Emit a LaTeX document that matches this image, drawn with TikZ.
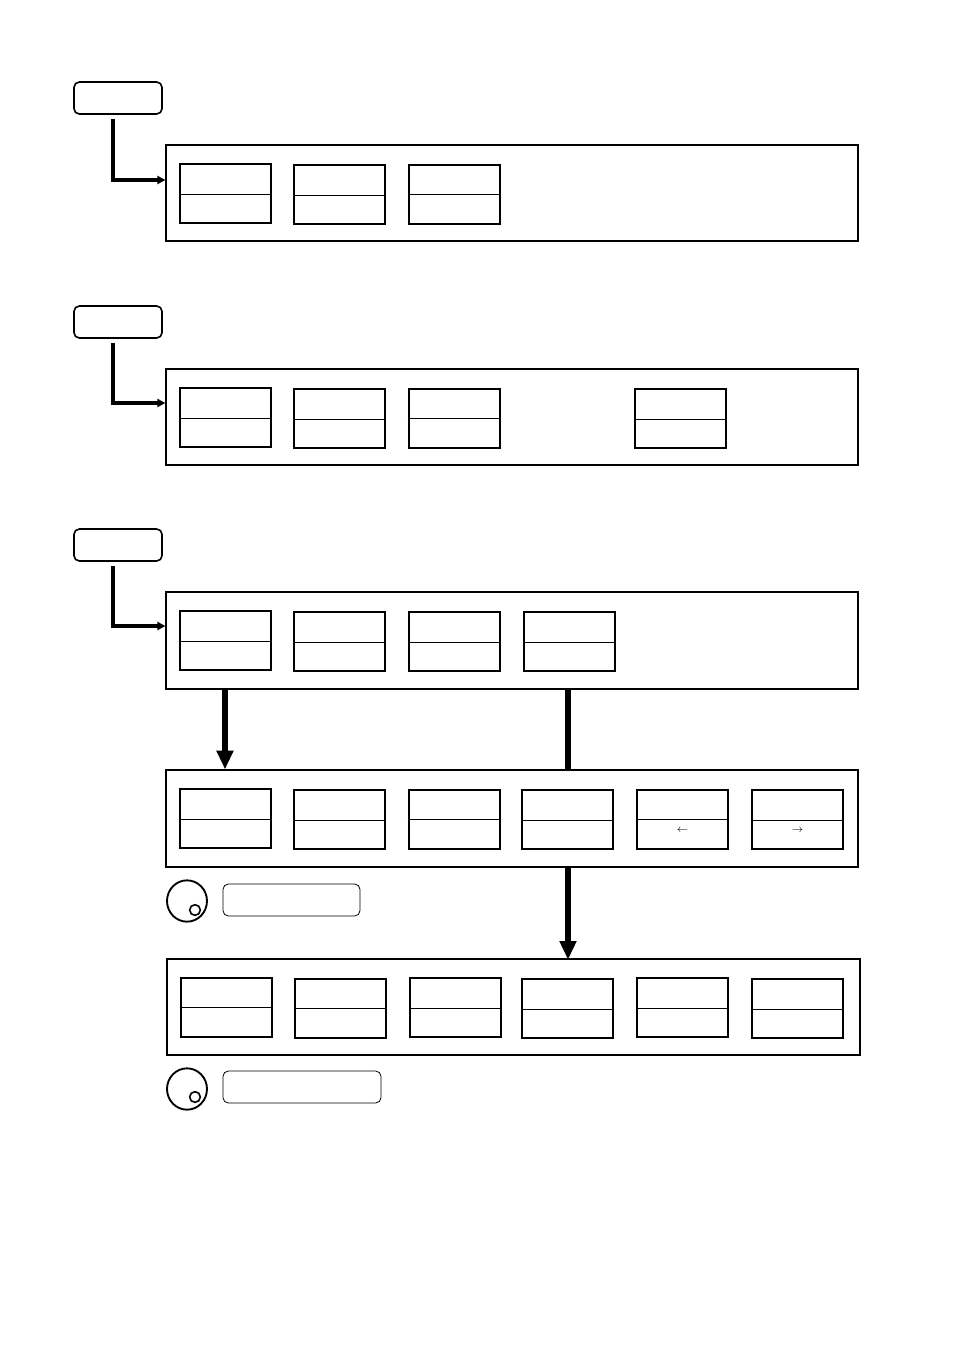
\documentclass[tikz,border=0pt]{standalone}
\usetikzlibrary{arrows.meta,shapes.geometric}
\begin{document}
\begin{tikzpicture}[x=0.75pt,y=-0.75pt,
  sbox/.style={draw,line width=0.9pt,minimum width=68.25pt,minimum height=44.25pt,inner sep=0pt},
  tbox/.style={sbox,line width=1.9pt},
  panel/.style={draw,line width=0.9pt},
  hdr/.style={draw,rounded corners=4pt,line width=1.2pt,inner sep=0pt},
  lbl/.style={draw,rounded corners=4pt,line width=0.6pt,inner sep=0pt},
  elbow/.style={line width=3pt,-{Triangle[width=6pt,length=6pt]}},
  bigarrow/.style={line width=4pt,-{Triangle[width=12pt,length=14pt]}},
  bigline/.style={line width=4pt}]
\useasboundingbox (0,0) rectangle (954,1350);
\fill[white] (0,0) rectangle (954,1350);
\newcommand{\smbox}[4]{\node[#1] (#2) at (#3+45.5,#4+29.5) {};
  \draw[line width=0.7pt] ([yshift=-23.25pt]#2.north west) -- ([yshift=-23.25pt]#2.north east);}
% headers
\node[hdr,minimum width=66pt,minimum height=24pt] (h1) at (118,98) {};
\node[hdr,minimum width=66pt,minimum height=24pt] (h2) at (118,322) {};
\node[hdr,minimum width=66pt,minimum height=24pt] (h3) at (118,545) {};
% panels
\node[panel,minimum width=519pt,minimum height=72pt,inner sep=0pt] (p1) at (512,193) {};
\node[panel,minimum width=519pt,minimum height=72pt,inner sep=0pt] (p2) at (512,417) {};
\node[panel,minimum width=519pt,minimum height=72.75pt,inner sep=0pt] (p3) at (512,640.5) {};
\node[panel,minimum width=519pt,minimum height=72.75pt,inner sep=0pt] (p4) at (512,818.5) {};
\node[panel,minimum width=519.75pt,minimum height=72pt,inner sep=0pt] (p5) at (513.5,1007) {};
% elbows
\coordinate (e1) at (113,180); \coordinate (e2) at (113,403); \coordinate (e3) at (113,626);
\draw[elbow] (113,119) -- (e1) -- (p1.west|-e1);
\draw[elbow] (113,343) -- (e2) -- (p2.west|-e2);
\draw[elbow] (113,566) -- (e3) -- (p3.west|-e3);
% row 1
\smbox{sbox}{a1}{180}{164} \smbox{sbox}{a2}{294}{165} \smbox{tbox}{a3}{409}{165}
% row 2
\smbox{sbox}{b1}{180}{388} \smbox{sbox}{b2}{294}{389} \smbox{tbox}{b3}{409}{389} \smbox{sbox}{b4}{635}{389}
% row 3
\smbox{sbox}{c1}{180}{611} \smbox{sbox}{c2}{294}{612} \smbox{sbox}{c3}{409}{612} \smbox{sbox}{c4}{524}{612}
% row 4
\smbox{sbox}{d1}{180}{789} \smbox{sbox}{d2}{294}{790} \smbox{tbox}{d3}{409}{790} \smbox{sbox}{d4}{522}{790} \smbox{tbox}{d5}{637}{790} \smbox{sbox}{d6}{752}{790}
\node[font=\footnotesize] at (682.5,830) {$\leftarrow$};
\node[font=\footnotesize] at (797.5,830) {$\rightarrow$};
% row 5
\smbox{tbox}{f1}{181}{978} \smbox{tbox}{f2}{295}{979} \smbox{sbox}{f3}{410}{978} \smbox{sbox}{f4}{522}{979} \smbox{sbox}{f5}{637}{978} \smbox{sbox}{f6}{752}{979}
% big arrows
\coordinate (x1) at (225,0); \coordinate (x2) at (568,0);
\draw[bigarrow] (p3.south-|x1) -- (p4.north-|x1);
\draw[bigline] (p3.south-|x2) -- (p4.north-|x2);
\draw[bigarrow] (p4.south-|x2) -- ([yshift=-1pt]p5.north-|x2);
% knobs
\node[draw,ellipse,line width=1.4pt,minimum width=30pt,minimum height=31pt,inner sep=0pt] (k1) at (187,901) {};
\node[draw,circle,line width=1.2pt,minimum size=8pt,inner sep=0pt] (k1s) at (195,910) {};
\node[lbl,minimum width=102.75pt,minimum height=24pt] (l1) at (291.5,900) {};
\node[draw,ellipse,line width=1.4pt,minimum width=30pt,minimum height=31pt,inner sep=0pt] (k2) at (187,1089) {};
\node[draw,circle,line width=1.2pt,minimum size=8pt,inner sep=0pt] (k2s) at (195,1097) {};
\node[lbl,minimum width=118.5pt,minimum height=24pt] (l2) at (302,1087) {};
\end{tikzpicture}
\end{document}
